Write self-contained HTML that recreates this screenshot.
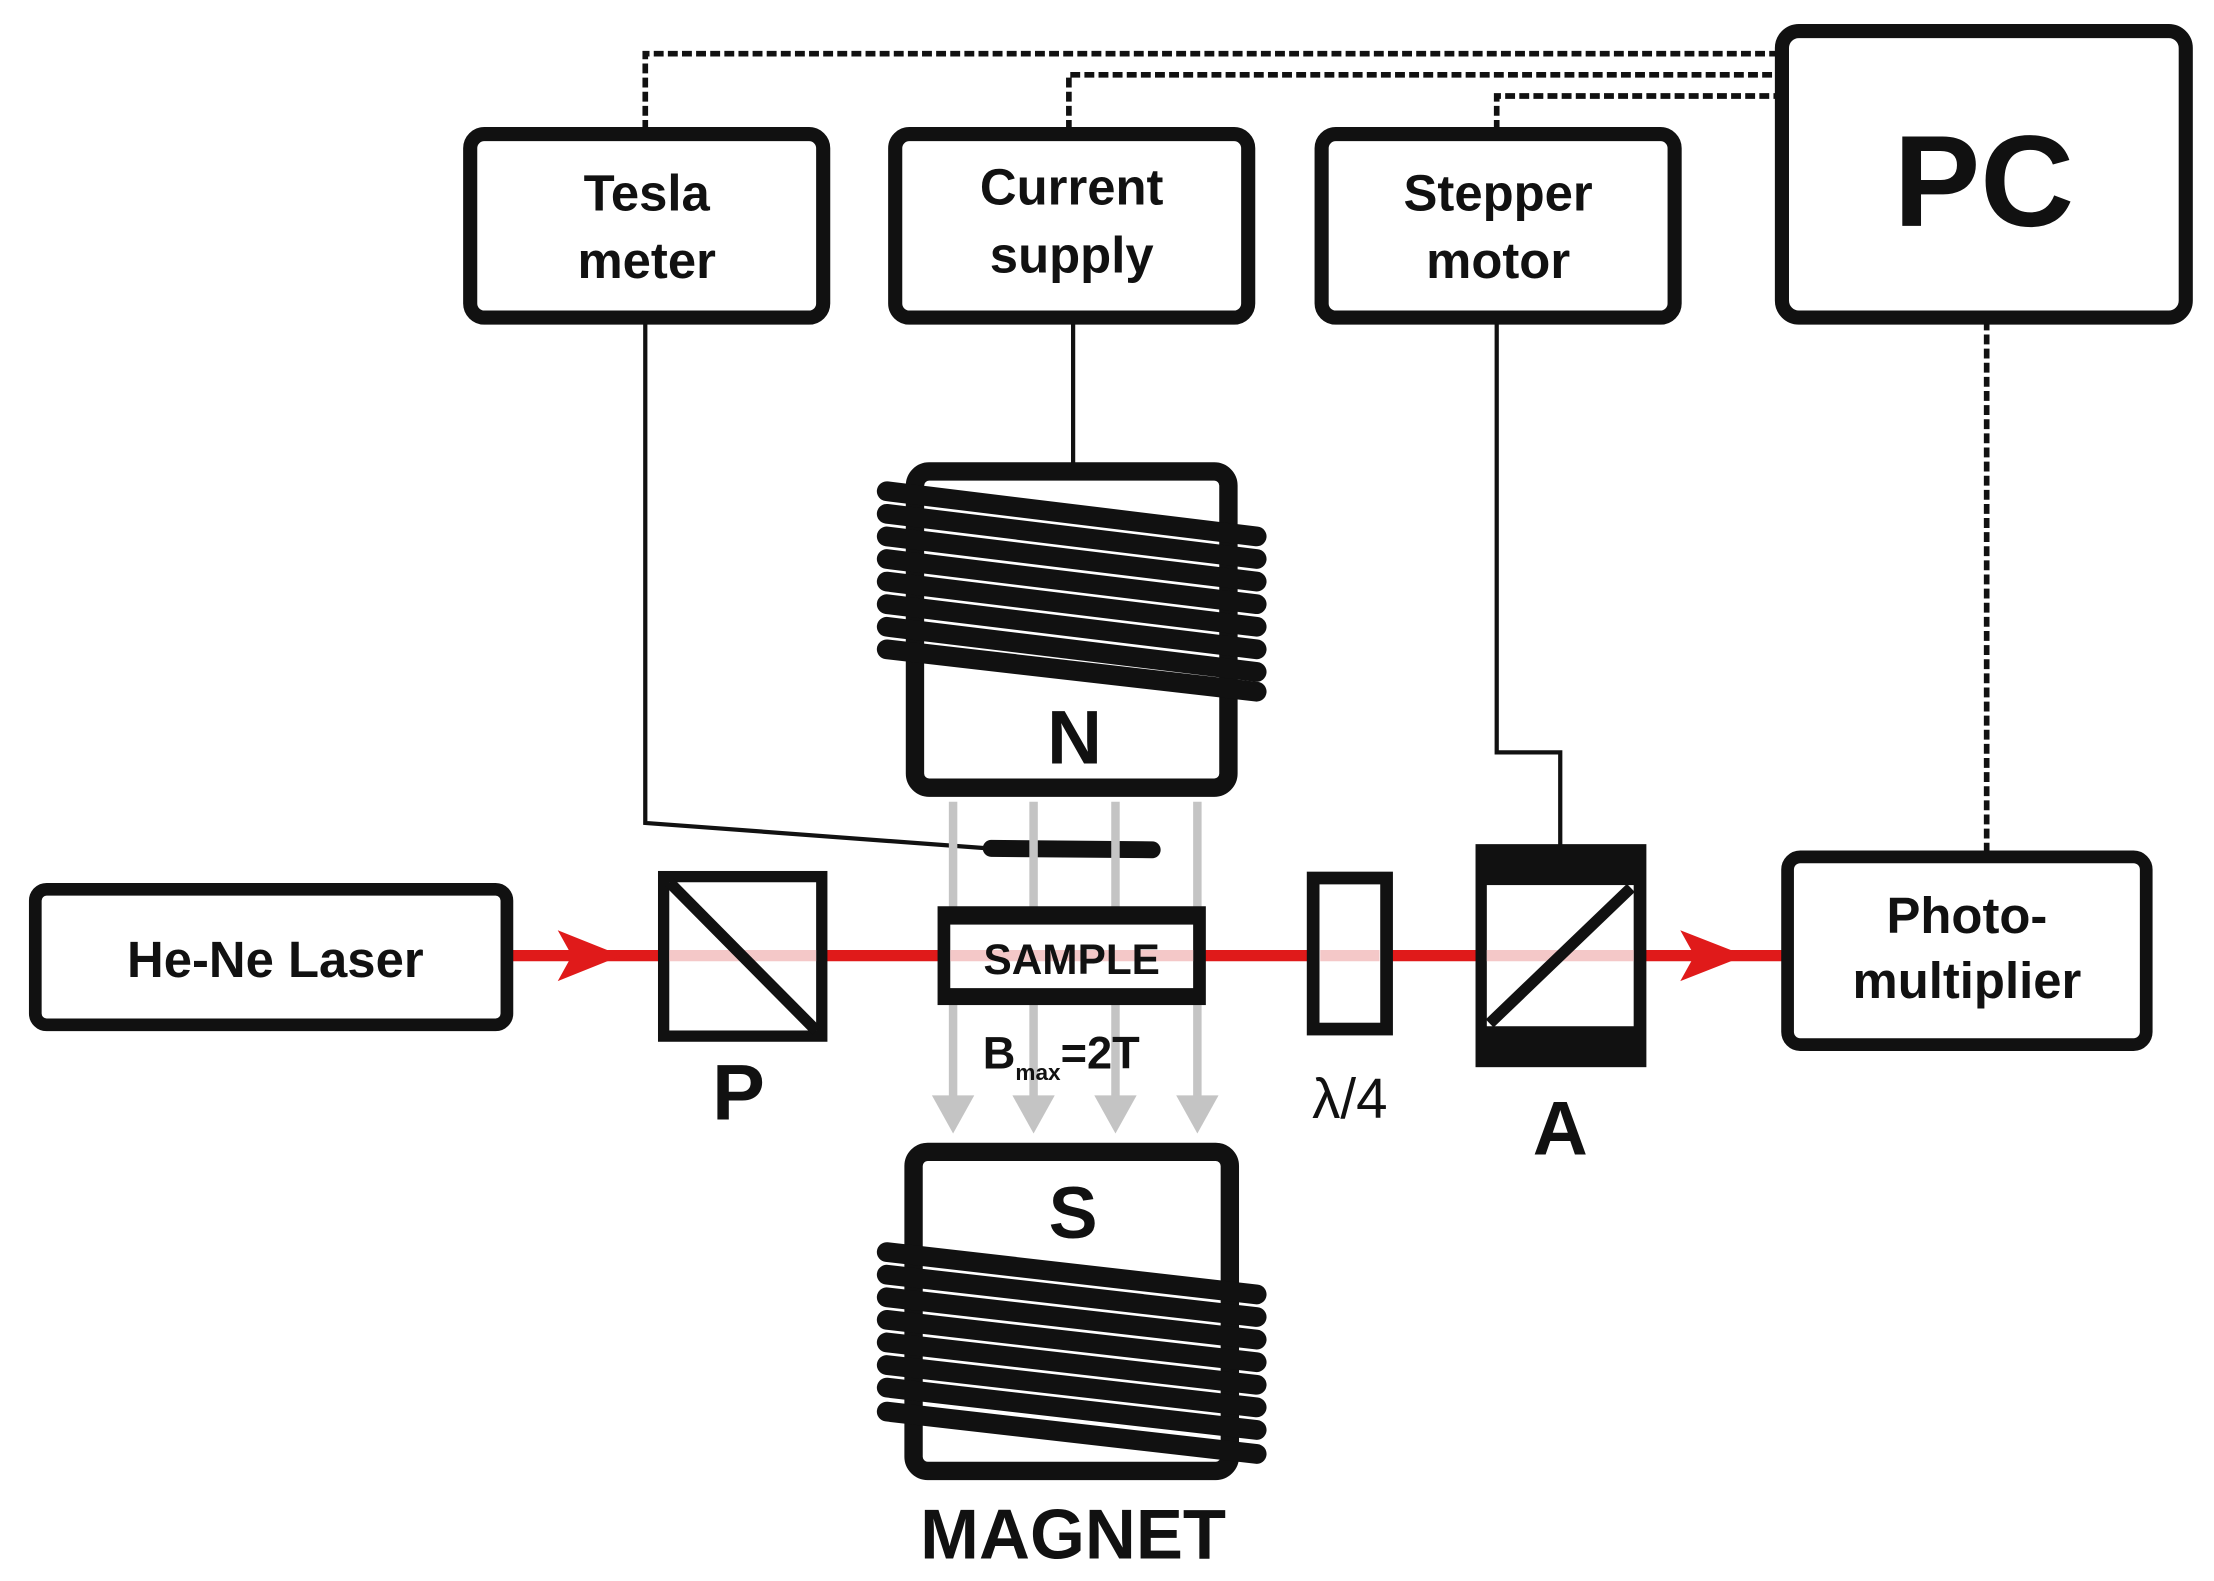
<!DOCTYPE html>
<html><head><meta charset="utf-8"><style>html,body{margin:0;padding:0;background:#fff}svg{display:block}</style></head>
<body>
<svg width="2214" height="1581" viewBox="0 0 1568 1120" preserveAspectRatio="none" xmlns="http://www.w3.org/2000/svg" font-family="Liberation Sans, sans-serif" font-weight="bold">
<rect width="1568" height="1120" fill="#fff"/>
<g stroke="#111" stroke-width="4" stroke-dasharray="7,3" fill="none">
<path d="M457 92 V38 H1260"/>
<path d="M757 92 V53 H1260"/>
<path d="M1060 92 V68 H1260"/>
<path d="M1407 227 V605"/>
</g>
<g stroke="#111" stroke-width="3" fill="none">
<path d="M457 227 V583 L700 601"/>
<path d="M760 227 V332"/>
<path d="M1060 227 V533 H1105 V600"/>
</g>
<line x1="702" y1="601" x2="816" y2="602" stroke="#111" stroke-width="12" stroke-linecap="round"/>
<g fill="#fff" stroke="#111" stroke-width="10">
<rect x="333" y="95" width="250" height="130" rx="10"/>
<rect x="634" y="95" width="250" height="130" rx="10"/>
<rect x="936" y="95" width="250" height="130" rx="10"/>
<rect x="1262" y="22" width="286" height="203" rx="12"/>
</g>
<g fill="#111" font-size="36" text-anchor="middle">
<text x="458" y="149">Tesla</text><text x="458" y="197">meter</text>
<text x="759" y="145">Current</text><text x="759" y="193">supply</text>
<text x="1061" y="149">Stepper</text><text x="1061" y="197">motor</text>
<text x="1405" y="160" font-size="92">PC</text>
</g>
<g stroke="#c4c4c4" stroke-width="6">
<line x1="675" y1="568" x2="675" y2="780"/><line x1="732" y1="568" x2="732" y2="780"/>
<line x1="790" y1="568" x2="790" y2="780"/><line x1="848" y1="568" x2="848" y2="780"/>
</g>
<g fill="#c4c4c4">
<polygon points="660,776 690,776 675,803"/><polygon points="717,776 747,776 732,803"/>
<polygon points="775,776 805,776 790,803"/><polygon points="833,776 863,776 848,803"/>
</g>
<rect x="648" y="334" width="222" height="224" rx="10" fill="#fff" stroke="#111" stroke-width="13"/>
<g stroke="#111" stroke-width="14" stroke-linecap="round">
<line x1="628" y1="348" x2="890" y2="380"/><line x1="628" y1="364" x2="890" y2="396"/>
<line x1="628" y1="380" x2="890" y2="412"/><line x1="628" y1="396" x2="890" y2="428"/>
<line x1="628" y1="412" x2="890" y2="444"/><line x1="628" y1="428" x2="890" y2="460"/>
<line x1="628" y1="444" x2="890" y2="476"/><line x1="628" y1="460" x2="890" y2="490"/>
</g>
<text x="761" y="541" font-size="54" text-anchor="middle" fill="#111">N</text>
<rect x="647" y="816" width="224" height="226" rx="10" fill="#fff" stroke="#111" stroke-width="13"/>
<g stroke="#111" stroke-width="14" stroke-linecap="round">
<line x1="628" y1="887" x2="890" y2="917"/><line x1="628" y1="903" x2="890" y2="933"/>
<line x1="628" y1="919" x2="890" y2="949"/><line x1="628" y1="935" x2="890" y2="965"/>
<line x1="628" y1="951" x2="890" y2="981"/><line x1="628" y1="967" x2="890" y2="997"/>
<line x1="628" y1="983" x2="890" y2="1013"/><line x1="628" y1="1000" x2="890" y2="1030"/>
</g>
<text x="760" y="877" font-size="52" text-anchor="middle" fill="#111">S</text>
<text x="760" y="1104" font-size="50" text-anchor="middle" fill="#111">MAGNET</text>
<line x1="362" y1="677" x2="1264" y2="677" stroke="#e01a1a" stroke-width="8"/>
<polygon points="395,659 440,677 395,695 405,677" fill="#e01a1a"/>
<polygon points="1190,659 1236,677 1190,695 1200,677" fill="#e01a1a"/>
<rect x="25" y="630" width="334" height="96" rx="8" fill="#fff" stroke="#111" stroke-width="9"/>
<text x="195" y="692" font-size="36" text-anchor="middle" fill="#111">He-Ne Laser</text>
<rect x="470" y="621" width="112" height="113" fill="#fff" stroke="#111" stroke-width="8"/>
<line x1="474" y1="677" x2="578" y2="677" stroke="#f4c8c8" stroke-width="8"/>
<line x1="474" y1="625" x2="578" y2="730" stroke="#111" stroke-width="8"/>
<text x="523" y="793" font-size="56" text-anchor="middle" fill="#111">P</text>
<rect x="664" y="642" width="190" height="70" fill="#111"/>
<rect x="673" y="655" width="172" height="45" fill="#fff"/>
<line x1="673" y1="677" x2="845" y2="677" stroke="#f4c8c8" stroke-width="8"/>
<text x="759" y="690" font-size="30" text-anchor="middle" fill="#111">SAMPLE</text>
<text x="696" y="757" font-size="32" fill="#111">B<tspan font-size="16" dy="8">max</tspan><tspan dy="-8">=2T</tspan></text>
<rect x="930" y="622" width="52" height="107" fill="#fff" stroke="#111" stroke-width="9"/>
<line x1="935" y1="677" x2="977" y2="677" stroke="#f4c8c8" stroke-width="8"/>
<text x="956" y="792" font-size="40" font-weight="normal" text-anchor="middle" fill="#111">λ/4</text>
<rect x="1045" y="598" width="121" height="158" fill="#111"/>
<rect x="1053" y="627" width="104" height="100" fill="#fff"/>
<line x1="1053" y1="677" x2="1157" y2="677" stroke="#f4c8c8" stroke-width="8"/>
<line x1="1055" y1="725" x2="1155" y2="629" stroke="#111" stroke-width="8"/>
<text x="1105" y="818" font-size="54" text-anchor="middle" fill="#111">A</text>
<rect x="1266" y="607" width="254" height="133" rx="9" fill="#fff" stroke="#111" stroke-width="9"/>
<text x="1393" y="661" font-size="36" text-anchor="middle" fill="#111">Photo-</text>
<text x="1393" y="707" font-size="36" text-anchor="middle" fill="#111">multiplier</text>
</svg>
</body></html>
